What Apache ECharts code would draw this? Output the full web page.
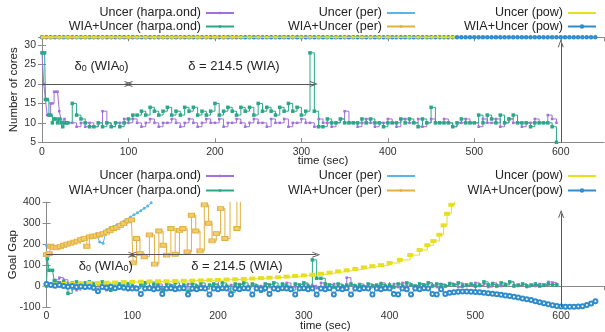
<!DOCTYPE html>
<html><head><meta charset="utf-8">
<script src="https://cdn.jsdelivr.net/npm/echarts/dist/echarts.min.js"></script>
<style>html,body{margin:0;padding:0;background:#fff}#c{width:605px;height:332px}</style>
</head><body><div id="c"></div>
<script>
// ---------- DATA ----------
// sample times (sec) every 5 s
const T5 = Array.from({length: 120}, (_, i) => i * 5);

// Top chart: Number of cores
const uncerHarpaCoresEarly = [[0,28],[2,20],[4,16],[6,12],[8,12],[10,15],[12,15],[14,18],[16,18],[18,18],[20,13],[22,11],[24,10],[26,11],[28,10]];
const uncerHarpaCores = [ // t = 30..595
  10,10,9,10,9,10,9,10,13,10,
  9,10,10,11,10,11,10,9,10,11,
  10,9,10,10,11,10,9,10,11,10,
  9,10,11,10,10,11,9,10,10,11,
  10,9,10,11,10,10,9,11,10,10,
  11,9,10,10,11,10,10,9,11,10,
  10,9,10,11,13,10,10,9,10,11,
  10,9,10,10,11,10,9,11,11,10,
  10,11,9,10,11,10,10,11,10,9,
  10,10,11,10,10,9,11,10,10,11,
  9,10,11,10,10,9,10,10,11,10,
  10,12,11,10];
const wiaHarpaCoresEarly = [[0,28],[3,28],[4,16],[6,16],[8,12],[10,12],[12,10],[14,11],[16,11],[18,10],[20,11],[22,10],[24,9],[26,10],[28,10]];
const wiaHarpaCores = [ // t = 30..595
  10,15,12,11,10,9,9,10,9,10,
  9,10,9,10,11,12,12,13,12,14,
  13,12,13,14,12,13,12,14,13,14,
  12,13,12,13,15,12,13,14,13,12,
  14,13,14,12,15,13,14,13,12,14,
  13,15,13,14,12,13,28,13,9,9,
  11,10,10,11,10,10,10,10,11,10,
  11,10,10,9,10,10,10,11,10,11,
  10,9,11,10,14,10,10,10,10,9,
  10,11,10,10,10,12,10,12,11,10,
  12,10,11,12,10,10,10,9,10,10,
  10,10,9,5];
const maxCores = 32; // per / pow policies stay at all 32 cores

// Bottom chart: Goal Gap
const uncerHarpaGap = [ // t = 0..595
  0,10,30,40,30,10,-15,-20,0,-10,
  5,-15,10,-5,-20,0,-15,5,-10,-20,
  0,-10,5,-5,-15,0,10,-10,-5,5,
  -15,0,-5,10,-10,0,5,-15,0,10,
  -5,0,-15,5,-5,10,-10,0,5,-15,
  0,10,-5,0,-10,5,15,-5,0,-10,
  10,0,5,-10,15,0,-5,10,-10,0,
  40,5,-5,10,0,-10,5,0,15,-5,
  0,10,-5,15,0,5,-10,10,0,15,
  5,-5,10,0,15,5,-5,10,0,5,
  15,0,10,-5,15,5,0,10,20,5,
  0,10,-5,5,0,10,5,20,15,10];
const wiaHarpaGapEarly = [[0,0],[1,130],[3,75],[7,75],[9,25]];
const wiaHarpaGap = [ // t = 10..595
  20,15,20,-35,15,20,10,15,20,10,
  15,20,10,-20,15,10,15,10,0,-10,
  5,15,-5,10,0,-20,10,0,15,-5,
  5,-25,10,0,15,-10,5,10,-5,15,
  0,-30,10,5,15,-5,10,0,-25,10,
  5,15,-5,10,0,-20,10,5,15,0,
  125,37,37,10,5,-5,10,0,5,10,
  0,5,-5,10,0,5,10,0,5,-5,
  10,0,15,5,0,10,5,15,0,10,
  5,0,10,5,15,0,5,10,0,5,
  20,5,10,0,15,5,20,0,5,10,
  0,5,10,0,5,10,5,5];
const uncerPerGap = [[0,195],[3,190],[6,185],[10,180],[14,183],[18,190],[22,200],[26,205],[30,210],[34,215],[38,220],[42,225],[46,232],[50,238],[54,243],[58,250],[62,211],[66,205],[70,268],[74,278],[78,285],[82,292],[86,298],[90,308],[94,318],[98,330],[102,340],[106,350],[110,360],[114,372],[118,382],[122,398]];
const wiaPerGap = [[0,150],[3,155],[5,190],[8,185],[12,182],[16,188],[20,195],[24,200],[28,205],[32,210],[36,215],[40,222],[44,228],[47,190],[50,235],[54,238],[58,240],[62,245],[66,250],[70,258],[74,265],[78,275],[82,280],[86,290],[90,298],[95,312],[99,316],[101,111],[105,227],[109,156],[114,140],[120,244],[126,105],[131,263],[136,195],[140,148],[145,275],[150,152],[155,266],[159,275],[164,163],[169,338],[174,263],[179,168],[184,388],[189,300],[193,216],[198,250],[203,370],[208,227],[214,430],[222,275],[226,440]];
const uncerPowGap = [[0,5],[10,8],[20,10],[30,12],[40,13],[50,14],[60,15],[70,16],[80,17],[90,19],[100,20],[110,21],[120,22],[130,23],[140,23],[150,24],[160,25],[170,26],[180,27],[190,28],[200,29],[210,31],[220,32],[230,34],[240,36],[250,38],[260,40],[270,42],[280,45],[290,48],[300,51],[310,54],[320,59],[330,64],[340,70],[350,75],[360,82],[370,89],[380,95],[390,100],[400,110],[412,125],[424,148],[435,172],[444,195],[451,215],[458,245],[463,290],[467,345],[472,388],[476,430]];
const wiaPowGapHead = [ // t = 0..460
  10,5,2,5,0,-3,0,-5,-2,-5,
  -3,-8,-25,-5,-8,-3,-10,-5,-8,-10,
  -12,-12,-38,-12,-10,-15,-12,-38,-12,-10,
  -15,-12,-10,-40,-12,-15,-10,-12,-40,-12,
  -15,-10,-12,-40,-12,-15,-10,-12,-40,-12,
  -15,-10,-38,-12,-15,-10,-12,-15,-40,-12,
  -10,-15,-12,-40,-12,-15,-10,-40,-12,-15,
  -10,-40,-12,-15,-10,-12,-40,-12,-15,-10,
  -12,-38,-40,-12,-15,-40,-12,-15,-10,-12,
  -38,-40,-15];
const wiaPowGapTail = [[465,-38],[470,-32],[475,-29],[480,-27],[485,-26],[490,-26],[495,-27],[500,-28],[505,-30],[510,-32],[515,-34],[520,-37],[525,-39],[530,-42],[535,-45],[540,-48],[545,-51],[550,-55],[555,-59],[560,-63],[565,-67],[570,-72],[575,-77],[580,-82],[585,-87],[590,-92],[595,-95],[600,-98],[605,-99],[610,-99],[615,-99],[620,-98],[625,-96],[630,-91],[635,-83],[640,-73]];

const names = ['Uncer (harpa.ond)','WIA+Uncer (harpa.ond)','Uncer (per)','WIA+Uncer (per)','Uncer (pow)','WIA+Uncer (pow)','WIA+Uncer(pow)'];
const colors = ['#a070dc','#28a888','#5ab6ea','#e2b040','#e6e020','#2f8ccc'];
const xTicks = {min: 0, max: 650, interval: 100};
const deltaStart = 100, deltaLen = 214.5, horizon = 600;

// ---------- BUILD ----------
const uncerHarpaCoresData = uncerHarpaCoresEarly.concat(uncerHarpaCores.map((v, i) => [T5[i + 6], v]));
const wiaHarpaCoresData = wiaHarpaCoresEarly.concat(wiaHarpaCores.map((v, i) => [T5[i + 6], v]));
const uncerHarpaGapData = uncerHarpaGap.map((v, i) => [T5[i], v]);
const wiaHarpaGapData = wiaHarpaGapEarly.concat(wiaHarpaGap.map((v, i) => [T5[i + 2], v]));
const wiaPowGapData = wiaPowGapHead.map((v, i) => [T5[i], v]).concat(wiaPowGapTail);
const atMax = arr => arr.map(p => [p[0], maxCores]);

const FONT = 'Liberation Sans';
const chev = 'path://M0,10 L5,0 L10,10 L8.4,10 L5,3 L1.6,10 Z';

function ser(name, g, data, color, o) {
  o = o || {};
  return Object.assign({
    type: 'line', name, xAxisIndex: g, yAxisIndex: g, data,
    symbol: 'rect', symbolSize: 3, showSymbol: true,
    lineStyle: {width: 1, color}, itemStyle: {color},
    animation: false, silent: true, clip: true
  }, o);
}
const sub = {
  a: {fontSize: 13, fontFamily: FONT, color: '#222'},
  s: {fontSize: 9, fontFamily: FONT, color: '#222', verticalAlign: 'bottom'}
};
function annot(y, tipTop, yBottom, txtY) {
  return {
    markLine: {
      silent: true, animation: false, symbolSize: [6, 8],
      lineStyle: {color: '#555', width: 1, type: 'solid'}, label: {show: false},
      data: [
        [{coord: [0, y], symbol: 'none'}, {coord: [deltaStart, y], symbol: chev}],
        [{coord: [deltaStart, y], symbol: chev}, {coord: [deltaStart + deltaLen, y], symbol: chev}],
        [{coord: [horizon, yBottom], symbol: 'none'}, {coord: [horizon, tipTop], symbol: chev}]
      ]
    },
    markPoint: {
      silent: true, animation: false, symbol: 'rect', symbolSize: 1,
      itemStyle: {color: 'rgba(0,0,0,0)'},
      data: [
        {coord: [69, txtY], label: {show: true, position: 'inside', formatter: '{a|δ}{s|0}{a| (WIA}{s|0}{a|)}', rich: sub}},
        {coord: [222, txtY], label: {show: true, position: 'inside', formatter: '{a|δ = 214.5 (WIA)}', rich: sub}}
      ]
    }
  };
}

const series = [
  // top
  Object.assign(ser(names[0], 0, uncerHarpaCoresData, colors[0], {step: 'end', symbolSize: 2.5}), annot(20, 30.5, 5, 24.6)),
  ser(names[1], 0, wiaHarpaCoresData, colors[1], {step: 'end', symbolSize: 3.5}),
  ser(names[5], 0, atMax(wiaPowGapData), colors[5], {symbol: 'emptyCircle', symbolSize: 2.5, clip: false, z: 2}),
  ser(names[2], 0, atMax(uncerPerGap), colors[2], {symbol: 'circle', symbolSize: 2.5, clip: false, z: 2}),
  ser(names[3], 0, atMax(wiaPerGap), colors[3], {symbolSize: 2.5, clip: false, z: 2}),
  ser(names[4], 0, atMax(uncerPowGap), colors[4], {symbolSize: 2.5, clip: false, z: 3, lineStyle: {width: 1.5, color: colors[4]}}),
  // bottom
  Object.assign(ser(names[0], 1, uncerHarpaGapData, colors[0], {step: 'end', symbolSize: 2.5}), annot(150, 345, -100, 93)),
  ser(names[1], 1, wiaHarpaGapData, colors[1], {step: 'end', symbolSize: 3.5}),
  ser(names[2], 1, uncerPerGap, colors[2], {symbol: 'circle', symbolSize: 3}),
  ser(names[3], 1, wiaPerGap, colors[3], {step: 'end', symbolSize: [6, 4], itemStyle: {color: '#f0cc70', borderColor: colors[3], borderWidth: 1}}),
  ser(names[4], 1, uncerPowGap, colors[4], {step: 'end', symbolSize: [6, 4]}),
  ser(names[6], 1, wiaPowGapData, colors[5], {symbol: 'emptyCircle', symbolSize: 4})
];

function legend(name, right, top) {
  return {data: [name], right, top, align: 'right', orient: 'horizontal', padding: 0,
    itemWidth: 28, itemHeight: 3, selectedMode: false,
    textStyle: {fontSize: 12.5, fontFamily: FONT, color: '#222'}};
}
const legends = [
  legend(names[0], 370, 6.5), legend(names[1], 370, 20),
  legend(names[2], 189, 6.5), legend(names[3], 189, 20),
  legend(names[4], 8, 6.5), legend(names[5], 8, 20),
  legend(names[0], 370, 169.5), legend(names[1], 370, 184),
  legend(names[2], 189, 169.5), legend(names[3], 189, 184),
  legend(names[4], 8, 169.5), legend(names[6], 8, 184)
];

const axLine = {lineStyle: {color: '#8a8a8a', width: 1}};
const axTick = {inside: true, length: 4, lineStyle: {color: '#8a8a8a'}};
const lbl = {fontSize: 10.5, fontFamily: FONT, color: '#333'};
function xAx(g, name, gap, mirror) {
  return Object.assign({type: 'value', gridIndex: g, position: mirror ? 'top' : 'bottom',
    axisLine: axLine, axisTick: axTick, splitLine: {show: false},
    axisLabel: Object.assign({show: !mirror, margin: 4, showMaxLabel: false}, lbl),
    name: mirror ? '' : name, nameLocation: 'middle', nameGap: gap, nameMoveOverlap: false,
    nameTextStyle: {fontSize: 11.5, fontFamily: FONT, color: '#222'}}, xTicks);
}
function yAx(g, min, max, interval, name, gap, mirror) {
  return {type: 'value', gridIndex: g, min, max, interval, position: mirror ? 'right' : 'left',
    axisLine: axLine, axisTick: axTick, splitLine: {show: false},
    axisLabel: Object.assign({show: !mirror, margin: 6, showMaxLabel: max % interval === 0}, lbl),
    name: mirror ? '' : name, nameLocation: 'middle', nameGap: gap, nameMoveOverlap: false,
    nameTextStyle: {fontSize: 11.5, fontFamily: FONT, color: '#222'}};
}

const chart = echarts.init(document.getElementById('c'), null, {renderer: 'canvas'});
chart.setOption({
  animation: false,
  backgroundColor: '#fff',
  grid: [
    {left: 42, right: 1, top: 37.3, bottom: 189.7, containLabel: false, outerBoundsMode: 'none'},
    {left: 46.5, right: 1, top: 202.3, bottom: 25, containLabel: false, outerBoundsMode: 'none'}
  ],
  legend: legends,
  xAxis: [xAx(0, 'time (sec)', 13), xAx(1, 'time (sec)', 13), xAx(0, '', 0, true), xAx(1, '', 0, true)],
  yAxis: [yAx(0, 5, 32, 5, 'Number of cores', 22), yAx(1, -100, 400, 100, 'Goal Gap', 28),
          yAx(0, 5, 32, 5, '', 0, true), yAx(1, -100, 400, 100, '', 0, true)],
  series
});
</script></body></html>
